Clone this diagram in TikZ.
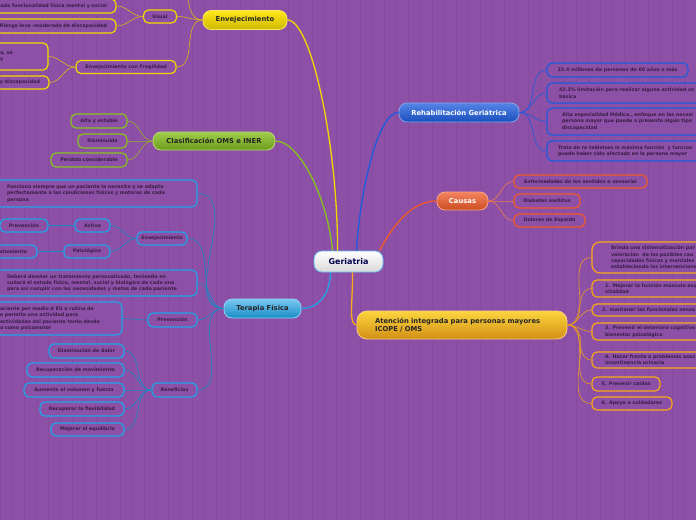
\documentclass[tikz,border=0pt]{standalone}
\usepackage{fontspec}
\newfontfamily\mapfont{DejaVu Sans}
\definecolor{fondo}{HTML}{8C50A6}
\definecolor{rejilla}{HTML}{864A9F}
\definecolor{letra}{HTML}{3A1E48}
\definecolor{amarillo}{HTML}{F2D800}
\definecolor{verde}{HTML}{86C21E}
\definecolor{celeste}{HTML}{1FA4EA}
\definecolor{azul}{HTML}{1E5CDE}
\definecolor{rojo}{HTML}{F05A28}
\definecolor{naranja}{HTML}{F8A818}
\begin{document}
\begin{tikzpicture}
  [x=1pt,y=-1pt,
   every node/.style={font=\mapfont\bfseries\fontsize{4.8}{6.4}\selectfont,text=letra,inner sep=0pt},
   hoja/.style={draw,rounded corners=5pt,line width=1.2pt,fill=fondo,minimum height=13pt},
   rama/.style={draw,rounded corners=8pt,line width=0.8pt,minimum height=19pt,
     font=\mapfont\bfseries\fontsize{6.8}{8.6}\selectfont,text=black!85},
   lazo/.style={line width=0.6pt},
   tronco/.style={line width=1.3pt}]
  \useasboundingbox (0,0) rectangle (696,520);
  \fill[fondo] (0,0) rectangle (696,520);
  \draw[rejilla,line width=0.7pt,step=12] (0,0) grid (696,520);
  \clip (0,0) rectangle (696,520);

  % centro
  \node[rama,top color=white,bottom color=black!15,draw=celeste!70,minimum width=69pt,minimum height=21pt,
    font=\mapfont\bfseries\fontsize{8}{9}\selectfont,text=blue!30!black] (ger) at (348.5,261.5) {Geriatria};

  % Envejecimiento
  \node[rama,top color=yellow!80!orange!90,bottom color=amarillo!85!black,draw=amarillo!60!white,minimum width=84pt] (envej) at (245,20) {Envejecimiento};
  \coordinate (envtop) at (172,-28);
  \node[hoja,draw=amarillo,minimum width=33pt] (usual) at (160,16.5) {Usual};
  \node[hoja,draw=amarillo,minimum height=14pt,inner xsep=9pt,text width=158pt,align=right] (ufunc) at (28,6) {ada funcionalidad física mental y social};
  \node[hoja,draw=amarillo,minimum height=14pt,inner xsep=9pt,text width=158pt,align=right] (uriesgo) at (28,26) {Riesgo leve -moderado de discapacidad};
  \node[hoja,draw=amarillo,minimum width=100pt] (fragil) at (126,67) {Envejecimiento con Fragilidad};
  \node[hoja,draw=amarillo,minimum height=27pt,inner xsep=20pt,text width=28pt,align=left] (fbig) at (14,56.5) {a, se\\y};
  \node[hoja,draw=amarillo,inner xsep=9pt,text width=91pt,align=right] (fdisc) at (-5.5,82.5) {y discapacidad};

  % Clasificacion
  \node[rama,top color=verde!80!white,bottom color=verde!80!black,draw=verde!60!white,minimum width=122pt,minimum height=18pt] (clasif) at (214,141) {Clasificación OMS e INER};
  \node[hoja,draw=verde,minimum width=56pt,minimum height=14pt] (alta) at (99,121) {Alta y estable};
  \node[hoja,draw=verde,minimum width=49pt,minimum height=14pt] (dismin) at (102.5,141) {Disminuida};
  \node[hoja,draw=verde,minimum width=76pt,minimum height=14pt] (perdida) at (89,160) {Pérdida considerable};

  % Terapia Fisica
  \node[rama,top color=celeste!60!white,bottom color=celeste!85!black,draw=celeste!50!white,minimum width=77pt] (terapia) at (262.5,308.5) {Terapia Física};
  \node[hoja,draw=celeste,minimum height=27pt,inner xsep=12pt,text width=178pt,align=left] (funciona) at (96,193.5)
    {Funciona siempre que un paciente la necesita y se adapta\\perfectamente a las condiciones físicas y motoras de cada\\persona};
  \node[hoja,draw=celeste,minimum width=50pt] (benv) at (162,238.5) {Envejecimiento};
  \node[hoja,draw=celeste,minimum width=35pt] (activo) at (92.5,225.5) {Activo};
  \node[hoja,draw=celeste,minimum width=48pt] (preva) at (24,225.5) {Prevención};
  \node[hoja,draw=celeste,minimum width=46pt] (patol) at (87,251.5) {Patológico};
  \node[hoja,draw=celeste,inner xsep=10pt,text width=47pt,align=right] (tratam) at (3.5,251.5) {atamiento};
  \node[hoja,draw=celeste,minimum height=26pt,inner xsep=12pt,text width=178pt,align=left] (debera) at (96,283)
    {Deberá diseñar un tratamiento personalizado, teniendo en\\cuñará el estado físico, mental, social y biológico de cada uno\\para así cumplir con las necesidades y metas de cada paciente};
  \node[hoja,draw=celeste,minimum width=49pt,minimum height=14pt] (prevb) at (172.5,320) {Prevención};
  \node[hoja,draw=celeste,minimum height=33pt,inner xsep=4pt,text width=118pt,align=left] (pbig) at (59,318.5)
    {aciente por medio d EU a rutina de\\e permita una actividad para\\ actividades del paciente tanto desde\\a como psicomotor};
  \node[hoja,draw=celeste,minimum width=45pt,minimum height=14pt] (benef) at (174.5,390) {Beneficios};
  \node[hoja,draw=celeste,minimum width=75pt,minimum height=14pt] (ben1) at (86.5,351) {Disminución de dolor};
  \node[hoja,draw=celeste,minimum width=97pt,minimum height=14pt] (ben2) at (75.5,370) {Recuperación de movimiento};
  \node[hoja,draw=celeste,minimum width=100pt,minimum height=14pt] (ben3) at (74,390) {Aumenta el volumen y fuerza};
  \node[hoja,draw=celeste,minimum width=84pt,minimum height=14pt] (ben4) at (82,409) {Recuperar la flexibilidad};
  \node[hoja,draw=celeste,minimum width=73pt] (ben5) at (87.5,429.5) {Mejorar el equilibrio};

  % Rehabilitacion
  \node[rama,top color=azul!75!white,bottom color=azul!85!black,draw=azul!55!white,minimum width=120pt,text=white] (rehab) at (459,112.5) {Rehabilitación Geriátrica};
  \node[hoja,draw=azul,minimum width=141pt,minimum height=14pt] (reh1) at (617.5,70) {15.4 millones de personas de 60 años o más};
  \node[hoja,draw=azul,minimum height=20pt,inner xsep=12pt,text width=189pt,align=left] (reh2) at (653.5,93)
    {42.3\% limitación para realizar alguna actividad co\\básica};
  \node[hoja,draw=azul,minimum height=27pt,inner xsep=15pt,text width=183pt,align=left] (reh3) at (653.5,121.5)
    {Alta especialidad Médica., enfoque en las necesi\\persona mayor que puede o presenta algún tipo\\discapacidad};
  \node[hoja,draw=azul,minimum height=20pt,inner xsep=11pt,text width=191pt,align=left] (reh4) at (653.5,151)
    {Trata de re tablelses la máxima función\ \ y funcion\\puede haber sido afectada en la persona mayor};

  % Causas
  \node[rama,top color=rojo!75!white,bottom color=rojo!85!black,draw=rojo!55!white,minimum width=51pt,minimum height=18pt,text=white] (causas) at (462.5,201) {Causas};
  \node[hoja,draw=rojo,minimum width=133pt] (cau1) at (580.5,181.5) {Enfermedades de los sentidos o sensorial};
  \node[hoja,draw=rojo,minimum width=66pt,minimum height=14pt] (cau2) at (547,201) {Diabetes mellitus};
  \node[hoja,draw=rojo,minimum width=71pt] (cau3) at (549.5,220.5) {Dolores de Espalda};

  % Atencion integrada
  \node[rama,top color=naranja!60!yellow!80,bottom color=naranja!85!black,draw=naranja!55!white,minimum height=28pt,
    rounded corners=10pt,inner xsep=18pt,text width=174pt,align=left] (atenc) at (462,325)
    {Atención integrada para personas mayores\\ICOPE / OMS};
  \node[hoja,draw=naranja,rounded corners=8pt,minimum height=31pt,inner xsep=19pt,text width=170pt,align=left] (ate0) at (696,257.5)
    {Brinda una sistematización par\\valoración\ \ de las posibles cau\\capacidades físicas y mentales\\estableciendo las intervencione};
  \node[hoja,draw=naranja,minimum height=17pt,inner xsep=13pt,text width=182pt,align=left] (ate1) at (696,288.5)
    {1. Mejorar la función músculo esq\\vitalidad};
  \node[hoja,draw=naranja,minimum height=12pt,inner xsep=10pt,text width=188pt,align=left] (ate2) at (696,310)
    {2. mantener las funcionales senso};
  \node[hoja,draw=naranja,minimum height=17pt,inner xsep=13pt,text width=182pt,align=left] (ate3) at (696,331.5)
    {3. Prevenir el deterioro cognitivo\\bienestar psicológico};
  \node[hoja,draw=naranja,minimum height=16pt,inner xsep=13pt,text width=182pt,align=left] (ate4) at (696,360)
    {4. Hacer frente a problemas asoc\\incontinencia urinaria};
  \node[hoja,draw=naranja,minimum width=68pt,minimum height=14pt] (ate5) at (626,384) {5. Prevenir caídas};
  \node[hoja,draw=naranja,minimum width=80pt] (ate6) at (632,403.5) {6. Apoyo a cuidadores};

  % ramas principales
  \draw[tronco,amarillo] (envej.east) .. controls (312,20) and (338,150) .. ([xshift=-11]ger.north);
  \draw[tronco,verde] (clasif.east) .. controls (300,141) and (328,200) .. ([xshift=-16]ger.north);
  \draw[tronco,azul] (rehab.west) .. controls (378,112) and (360,190) .. ([xshift=8]ger.north);
  \draw[tronco,rojo] (causas.west) .. controls (410,201) and (392,228) .. ([xshift=-4]ger.north east);
  \draw[tronco,celeste] (terapia.east) .. controls (322,308) and (330,290) .. ([xshift=-18]ger.south);
  \draw[tronco,naranja] ([xshift=4]ger.south) .. controls (353,300) and (348,325) .. (atenc.west);

  % hojas a la izquierda
  \foreach \from/\to/\col in {envej/usual/amarillo!60!brown, envej/fragil/amarillo!60!brown,
      usual/ufunc/amarillo!60!brown, usual/uriesgo/amarillo!60!brown, fragil/fbig/amarillo!60!brown, fragil/fdisc/amarillo!60!brown,
      clasif/alta/verde!70!brown, clasif/dismin/verde!70!brown, clasif/perdida/verde!70!brown,
      terapia/funciona/celeste!85!black, terapia/benv/celeste!85!black, terapia/debera/celeste!85!black,
      terapia/prevb/celeste!85!black, terapia/benef/celeste!85!black,
      benv/activo/celeste!85!black, benv/patol/celeste!85!black, activo/preva/celeste!85!black, patol/tratam/celeste!85!black,
      prevb/pbig/celeste!85!black, benef/ben1/celeste!85!black, benef/ben2/celeste!85!black, benef/ben3/celeste!85!black,
      benef/ben4/celeste!85!black, benef/ben5/celeste!85!black}
    \draw[lazo,\col] (\from.west) to[out=180,in=0] (\to.east);
  \draw[lazo,amarillo!60!brown] (envej.west) to[out=180,in=0] (envtop);

  % hojas a la derecha
  \foreach \from/\to/\col in {rehab/reh1/azul, rehab/reh2/azul, rehab/reh3/azul, rehab/reh4/azul,
      causas/cau1/rojo!80!white, causas/cau2/rojo!80!white, causas/cau3/rojo!80!white,
      atenc/ate0/naranja!70!brown, atenc/ate1/naranja!70!brown, atenc/ate2/naranja!70!brown, atenc/ate3/naranja!70!brown,
      atenc/ate4/naranja!70!brown, atenc/ate5/naranja!70!brown, atenc/ate6/naranja!70!brown}
    \draw[lazo,\col] (\from.east) to[out=0,in=180] (\to.west);
\end{tikzpicture}
\end{document}
